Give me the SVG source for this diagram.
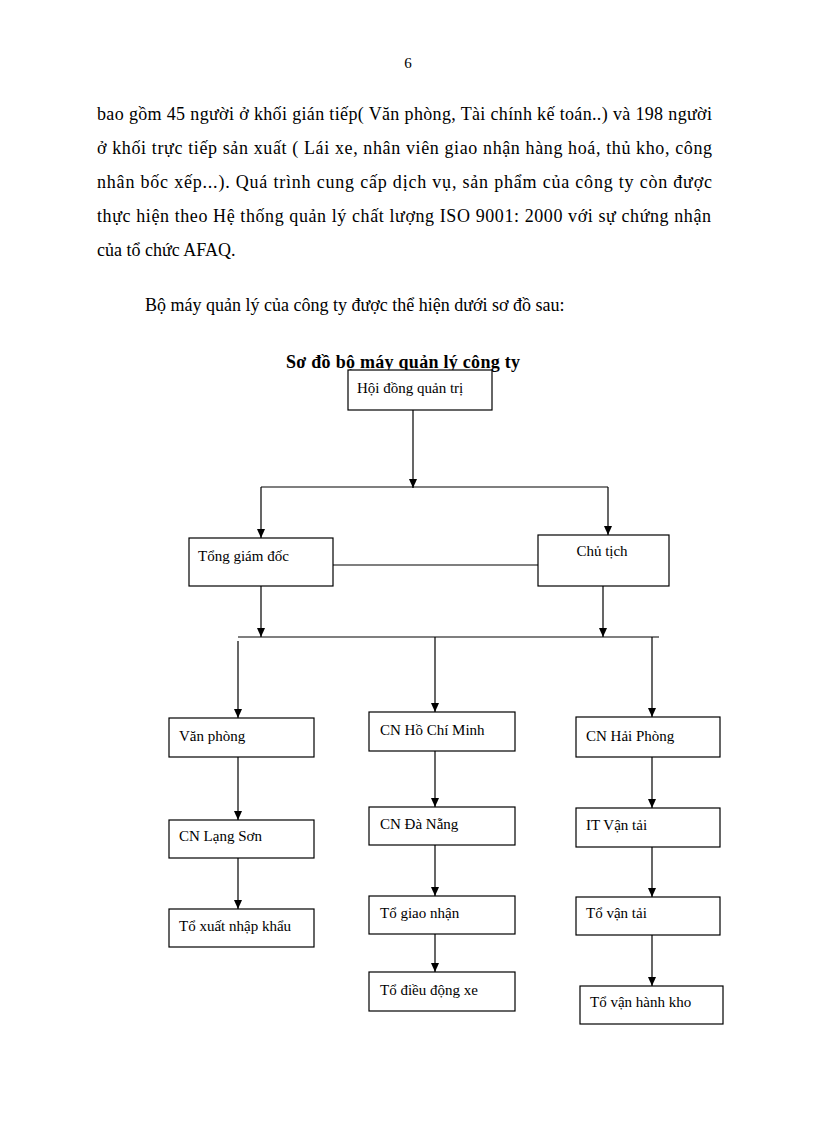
<svg xmlns="http://www.w3.org/2000/svg" width="816" height="1123" viewBox="0 0 816 1123">
<style>
.body{font-family:"Liberation Serif","Times New Roman",serif;font-size:18px;fill:#000}
.title{font-family:"Liberation Serif","Times New Roman",serif;font-size:18px;font-weight:bold;fill:#000}
.lbl{font-family:"Liberation Serif","Times New Roman",serif;font-size:15px;fill:#000}
.box{fill:#fff;stroke:#000;stroke-width:1.2}
.ln{stroke:#000;stroke-width:1.2;fill:none}
.ar{stroke:#000;stroke-width:1.2;fill:none;marker-end:url(#ah)}
</style>
<defs>
<marker id="ah" viewBox="0 0 9 8" refX="9" refY="4" markerWidth="9" markerHeight="8" markerUnits="userSpaceOnUse" orient="auto">
<path d="M0,0 L9,4 L0,8 Z" fill="#000"/>
</marker>
</defs>
<rect width="816" height="1123" fill="#fff"/>
<text class="lbl" x="408" y="68" text-anchor="middle">6</text>
<text class="body" x="97" y="120" textLength="615" lengthAdjust="spacing">bao gồm 45 người ở khối gián tiếp( Văn phòng, Tài chính kế toán..) và 198 người</text>
<text class="body" x="97" y="154" textLength="615" lengthAdjust="spacing">ở khối trực tiếp  sản xuất ( Lái xe, nhân viên giao nhận hàng hoá, thủ kho, công</text>
<text class="body" x="97" y="188" textLength="615" lengthAdjust="spacing">nhân bốc xếp...).  Quá trình cung cấp dịch vụ, sản phẩm của công ty còn được</text>
<text class="body" x="97" y="222" textLength="614" lengthAdjust="spacing">thực hiện theo Hệ thống quản lý chất lượng ISO 9001: 2000 với sự chứng nhận</text>
<text class="body" x="97" y="256">của tổ chức AFAQ.</text>
<text class="body" x="145" y="311">Bộ máy quản lý của công ty được thể hiện dưới sơ đồ sau:</text>
<text class="title" x="286" y="368" textLength="234" lengthAdjust="spacing">Sơ đồ bộ máy quản lý công ty</text>
<g id="connectors">
<line class="ar" x1="413" y1="410" x2="413" y2="488"/>
<line class="ln" x1="261" y1="487" x2="608" y2="487"/>
<line class="ar" x1="261" y1="487" x2="261" y2="538"/>
<line class="ar" x1="608" y1="487" x2="608" y2="535"/>
<line class="ln" x1="333" y1="565" x2="538" y2="565"/>
<line class="ar" x1="261" y1="586" x2="261" y2="637"/>
<line class="ar" x1="603" y1="586" x2="603" y2="637"/>
<line class="ln" x1="238" y1="637" x2="659" y2="637"/>
<line class="ar" x1="238" y1="641" x2="238" y2="718"/>
<line class="ar" x1="435" y1="637" x2="435" y2="712"/>
<line class="ar" x1="652" y1="637" x2="652" y2="717"/>
<line class="ar" x1="238" y1="757" x2="238" y2="820"/>
<line class="ar" x1="238" y1="858" x2="238" y2="909"/>
<line class="ar" x1="435" y1="751" x2="435" y2="807"/>
<line class="ar" x1="435" y1="845" x2="435" y2="896"/>
<line class="ar" x1="435" y1="934" x2="435" y2="972"/>
<line class="ar" x1="652" y1="757" x2="652" y2="808"/>
<line class="ar" x1="652" y1="847" x2="652" y2="897"/>
<line class="ar" x1="652" y1="935" x2="652" y2="986"/>
</g>
<g id="hdqt"><rect class="box" x="348" y="370" width="144" height="40"/><text class="lbl" x="357" y="393">Hội đồng quản trị</text></g>
<g id="tgd"><rect class="box" x="189" y="538" width="144" height="48"/><text class="lbl" x="198" y="561">Tổng giám  đốc</text></g>
<g id="ct"><rect class="box" x="538" y="535" width="131" height="51"/><text class="lbl" x="602" y="556" text-anchor="middle">Chủ tịch</text></g>
<g id="vp"><rect class="box" x="169" y="718" width="145" height="39"/><text class="lbl" x="179" y="741">Văn phòng</text></g>
<g id="hcm"><rect class="box" x="369" y="712" width="146" height="39"/><text class="lbl" x="380" y="735">CN Hồ Chí Minh</text></g>
<g id="hp"><rect class="box" x="576" y="717" width="144" height="40"/><text class="lbl" x="586" y="741">CN Hải Phòng</text></g>
<g id="ls"><rect class="box" x="169" y="820" width="145" height="38"/><text class="lbl" x="179" y="841">CN Lạng  Sơn</text></g>
<g id="xnk"><rect class="box" x="169" y="909" width="145" height="38"/><text class="lbl" x="179" y="931">Tổ xuất nhập  khẩu</text></g>
<g id="dn"><rect class="box" x="369" y="807" width="146" height="38"/><text class="lbl" x="380" y="829">CN Đà Nẵng</text></g>
<g id="gn"><rect class="box" x="369" y="896" width="146" height="38"/><text class="lbl" x="380" y="918">Tổ giao  nhận</text></g>
<g id="ddx"><rect class="box" x="369" y="972" width="146" height="39"/><text class="lbl" x="380" y="995">Tổ điều  động xe</text></g>
<g id="it"><rect class="box" x="576" y="808" width="144" height="39"/><text class="lbl" x="586" y="830">IT Vận tải</text></g>
<g id="tvt"><rect class="box" x="576" y="897" width="144" height="38"/><text class="lbl" x="586" y="918">Tổ vận tải</text></g>
<g id="vhk"><rect class="box" x="580" y="986" width="143" height="38"/><text class="lbl" x="590" y="1007">Tổ vận hành  kho</text></g>
</svg>
